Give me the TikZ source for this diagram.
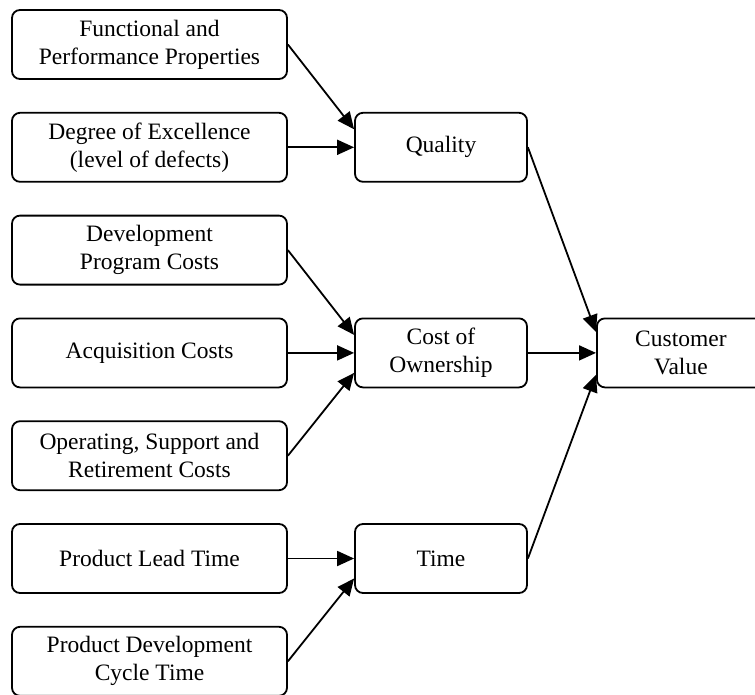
\documentclass[tikz,border=0pt]{standalone}
\usepackage{fontspec}
\setmainfont{Liberation Serif}
\usetikzlibrary{arrows.meta,calc}
\begin{document}
\begin{tikzpicture}[x=1pt,y=-1pt,
  box/.style={draw=black,line width=1.8pt,rounded corners=8pt,fill=white,
    minimum height=69pt,inner sep=0pt,align=center,
    font=\fontsize{23.5pt}{28pt}\selectfont},
  leftbox/.style={box,minimum width=275pt},
  midbox/.style={box,minimum width=172pt},
  arr/.style={line width=1.8pt,-{Triangle[length=17pt,width=15pt]}}]
\useasboundingbox (0,0) rectangle (755,694);
\node[leftbox] (f1) at (149.5,44.5) {Functional and\\Performance Properties};
\node[leftbox] (f2) at (149.5,147.3) {Degree of Excellence\\(level of defects)};
\node[leftbox] (f3) at (149.5,250.1) {Development\\Program Costs};
\node[leftbox] (f4) at (149.5,352.9) {Acquisition Costs};
\node[leftbox] (f5) at (149.5,455.7) {Operating, Support and\\Retirement Costs};
\node[leftbox] (f6) at (149.5,558.5) {Product Lead Time};
\node[leftbox] (f7) at (149.5,661.3) {Product Development\\Cycle Time};
\node[midbox] (q) at (441,147.3) {Quality};
\node[midbox] (c) at (441,352.9) {Cost of\\Ownership};
\node[midbox] (t) at (441,558.5) {Time};
\node[box,minimum width=175pt,text width=150pt,anchor=west] (v) at (596,352.9) {\hspace*{-7pt}Customer\\\hspace*{-7pt}Value};
\draw[arr] (f1.east) -- ($(q.west)+(0,-18)$);
\draw[arr] (f2.east) -- (q.west);
\draw[arr] (f3.east) -- ($(c.west)+(0,-18)$);
\draw[arr] (f4.east) -- (c.west);
\draw[arr] (f5.east) -- ($(c.west)+(0,20)$);
\draw[arr] (f6.east) -- (t.west);
\draw[arr] (f7.east) -- ($(t.west)+(0,20)$);
\draw[arr] (q.east) -- ($(v.west)+(0,-21)$);
\draw[arr] (c.east) -- (v.west);
\draw[arr] (t.east) -- ($(v.west)+(0,22)$);
\end{tikzpicture}
\end{document}
